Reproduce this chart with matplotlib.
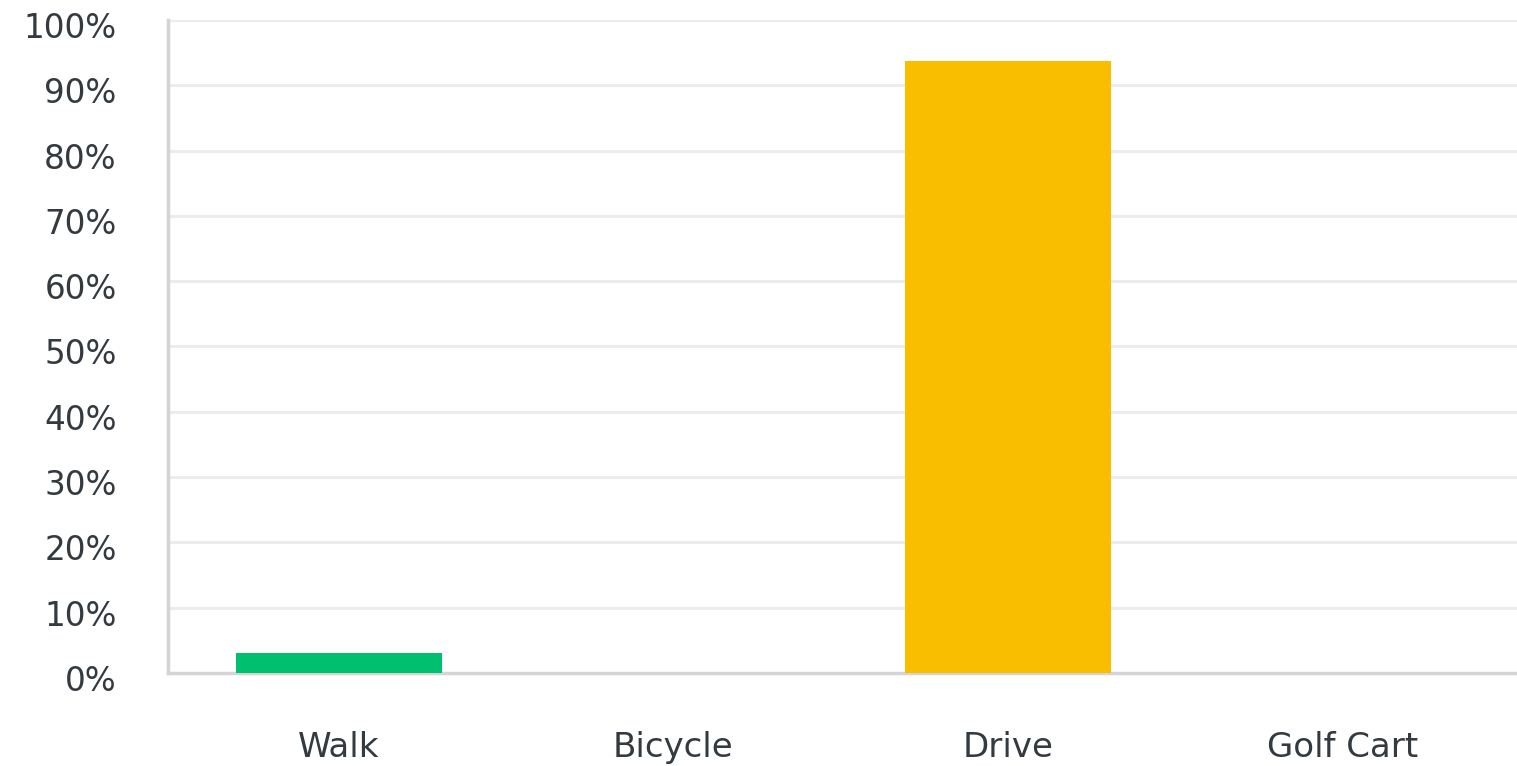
import numpy as np
import matplotlib.pyplot as plt
import matplotlib.transforms as mtransforms
from matplotlib.ticker import FuncFormatter

# share of respondents by mode of transport (%)
categories = ['Walk', 'Bicycle', 'Drive', 'Golf Cart']
shares = [3.13, 0.0, 93.75, 0.0]
bar_colors = ['#00BF6F', '#00BF6F', '#F9BE00', '#F9BE00']
y_ticks = [0, 10, 20, 30, 40, 50, 60, 70, 80, 90, 100]

plt.rcParams['font.family'] = ['DejaVu Sans']

fig = plt.figure(figsize=(15.17, 7.66), dpi=100)
ax = fig.add_axes([0.1107, 0.1214, 0.8893, 0.8526])

x = np.arange(len(categories))
ax.bar(x, shares, width=0.615, color=bar_colors, zorder=3)

ax.set_xlim(-0.51, 3.52)
ax.set_ylim(0, 100)
ax.set_xticks(x)
ax.set_xticklabels(categories)
ax.set_yticks(y_ticks)
ax.yaxis.set_major_formatter(FuncFormatter(lambda v, p: '{:.0f}%'.format(v)))

ax.grid(axis='y', color='#ececec', linewidth=2.2, zorder=0)
ax.tick_params(axis='both', length=0, colors='#333a40')
ax.tick_params(axis='x', pad=42, labelsize=24.5)
ax.tick_params(axis='y', pad=37, labelsize=23.5)

# y labels sit a few pixels below their gridlines
shift = mtransforms.ScaledTranslation(0, -5 / 100, fig.dpi_scale_trans)
for lbl in ax.get_yticklabels():
    lbl.set_transform(lbl.get_transform() + shift)

for side in ['top', 'right']:
    ax.spines[side].set_visible(False)
for side in ['left', 'bottom']:
    ax.spines[side].set_color('#d4d4d4')
    ax.spines[side].set_linewidth(2.5)

fig.savefig('out.png', dpi=100, facecolor='white')
